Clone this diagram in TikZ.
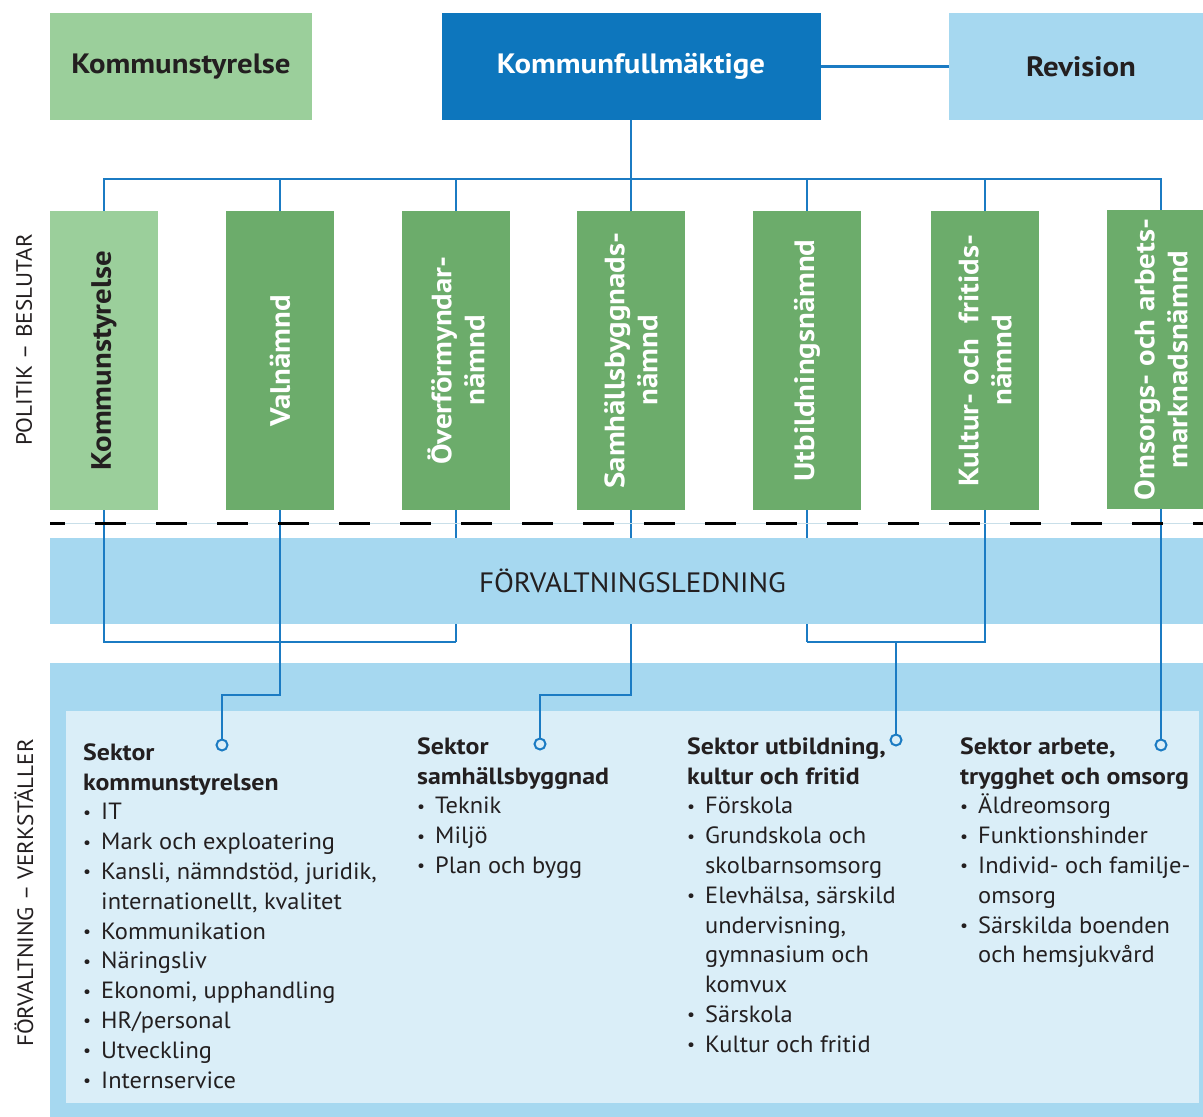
\documentclass[tikz,border=0pt]{standalone}
\usepackage{fontspec}
\setmainfont{PT Sans}[UprightFeatures={FakeStretch=1.04}, BoldFeatures={FakeStretch=1.1}]
\definecolor{lgreen}{HTML}{9BCF9B}
\definecolor{mgreen}{HTML}{6CAC6B}
\definecolor{dblue}{HTML}{0D76BD}
\definecolor{lblue}{HTML}{A6D8F0}
\definecolor{pblue}{HTML}{DAEEF8}
\definecolor{lineblue}{HTML}{1B7BC3}
\definecolor{txt}{HTML}{231F20}
\definecolor{sepline}{HTML}{C9DFE9}
\newcommand{\bul}{\makebox[18pt][l]{\raisebox{1.5pt}{\fontsize{17}{17}\selectfont\textbullet}}}
\newcommand{\ind}{\hspace*{18pt}}
\newcommand{\strt}{\rule{0pt}{20pt}}
\tikzset{
  topbox/.style={inner sep=0pt, minimum height=107pt, font=\fontsize{28}{32}\selectfont\bfseries},
  vbox/.style={rotate=90, inner sep=0pt, minimum width=299pt, minimum height=108pt, align=center,
    font=\fontsize{28}{33}\selectfont\bfseries, fill=mgreen, text=white},
  conn/.style={draw=lineblue, line width=2.6pt},
  ring/.style={circle, draw=lineblue, fill=pblue, line width=2pt, minimum size=11pt, inner sep=0pt},
  sidelabel/.style={rotate=90, inner sep=0pt, font=\fontsize{22.2}{27}\selectfont, text=txt},
  sektor/.style={anchor=north west, inner sep=0pt, align=left, font=\fontsize{23.5}{29.8}\selectfont, text=txt},
}
\begin{document}
\begin{tikzpicture}[x=1pt,y=-1pt]
\useasboundingbox (0,0) rectangle (1203,1117);
\fill[white] (0,0) rectangle (1203,1117);
% lower panels
\fill[lblue] (50,663) rectangle (1215,1117);
\fill[pblue] (66,711) rectangle (1199,1103);
% rings
\node[ring] (c1) at (222,745) {};
\node[ring] (c2) at (540,744) {};
\node[ring] (c3) at (896,740) {};
\node[ring] (c4) at (1161,745) {};
% top row
\node[topbox, fill=lgreen, text=txt, minimum width=262pt] (ks) at (181,66.5) {Kommunstyrelse};
\node[topbox, fill=dblue, text=white, minimum width=379pt] (kf) at (631,66.5) {Kommunfullmäktige};
\node[topbox, fill=lblue, text=txt, minimum width=264pt] (rev) at (1081,66.5) {Revision};
\draw[conn] (kf.east) -- (rev.west);
% side labels
\node[sidelabel] (pol) at (24,340) {POLITIK – BESLUTAR};
\node[sidelabel] (forv) at (24,893) {FÖRVALTNING – VERKSTÄLLER};
% committee boxes
\node[vbox, fill=lgreen, text=txt] (n1) at (104,360.5) {Kommunstyrelse};
\node[vbox] (n2) at (280,360.5) {Valnämnd};
\node[vbox] (n3) at (456,360.5) {Överförmyndar-\\nämnd};
\node[vbox] (n4) at (631,360.5) {Samhällsbyggnads-\\nämnd};
\node[vbox] (n5) at (807,360.5) {Utbildningsnämnd};
\node[vbox] (n6) at (985,360.5) {Kultur- och\ \ fritids-\\nämnd};
\node[vbox] (n7) at (1161,359.5) {Omsorgs- och arbets-\\marknadsnämnd};
% top bus
\coordinate (bus) at (632,179);
\coordinate (brk) at (0,642);
\coordinate (jog) at (0,695);
\draw[conn] (kf.south) -- (kf.south |- bus);
\draw[conn] (n1.east) |- (n7.east |- bus) -- (n7.east);
\foreach \n in {n2,n3,n4,n5,n6} \draw[conn] (\n.east) -- (\n.east |- bus);
% lines hidden behind the management band
\draw[conn] (n3.west) -- (n3.west |- brk);
\draw[conn] (n4.west) |- (c2.north |- jog) -- (c2.north);
\draw[conn] (n5.west) -- (n5.west |- brk);
% management band
\node[fill=lblue, inner sep=0pt, minimum width=1165pt, minimum height=86pt,
  font=\fontsize{28}{32}\selectfont, text=txt] (fl) at (632.5,581) {FÖRVALTNINGSLEDNING};
% lines over the band
\draw[conn] (n1.west) |- (n3.west |- brk);
\draw[conn] (n2.west) |- (c1.north |- jog) -- (c1.north);
\draw[conn] (n6.west) |- (n5.west |- brk);
\draw[conn] (c3.north |- brk) -- (c3.north);
\draw[conn] (n7.west) -- (c4.north);
% separator
\draw[sepline, line width=1pt] (50,523) -- (1203,523);
\draw[black, line width=3pt, dash pattern=on 30.5pt off 30.5pt, dash phase=15.6pt] (50,523) -- (1203,523);
% sector texts
\node[sektor] (s1) at (83,740) {\strt\textbf{Sektor}\\\textbf{kommunstyrelsen}\\\bul IT\\\bul Mark och exploatering\\\bul Kansli, nämndstöd, juridik,\\\ind internationellt, kvalitet\\\bul Kommunikation\\\bul Näringsliv\\\bul Ekonomi, upphandling\\\bul HR/personal\\\bul Utveckling\\\bul Internservice};
\node[sektor] (s2) at (417,734) {\strt\textbf{Sektor}\\\textbf{samhällsbyggnad}\\\bul Teknik\\\bul Miljö\\\bul Plan och bygg};
\node[sektor] (s3) at (687,734) {\strt\textbf{Sektor utbildning,}\\\textbf{kultur och fritid}\\\bul Förskola\\\bul Grundskola och\\\ind skolbarnsomsorg\\\bul Elevhälsa, särskild\\\ind undervisning,\\\ind gymnasium och\\\ind komvux\\\bul Särskola\\\bul Kultur och fritid};
\node[sektor] (s4) at (960,734) {\strt\textbf{Sektor arbete,}\\\textbf{trygghet och omsorg}\\\bul Äldreomsorg\\\bul Funktionshinder\\\bul Individ- och familje-\\\ind omsorg\\\bul Särskilda boenden\\\ind och hemsjukvård};
\end{tikzpicture}
\end{document}
